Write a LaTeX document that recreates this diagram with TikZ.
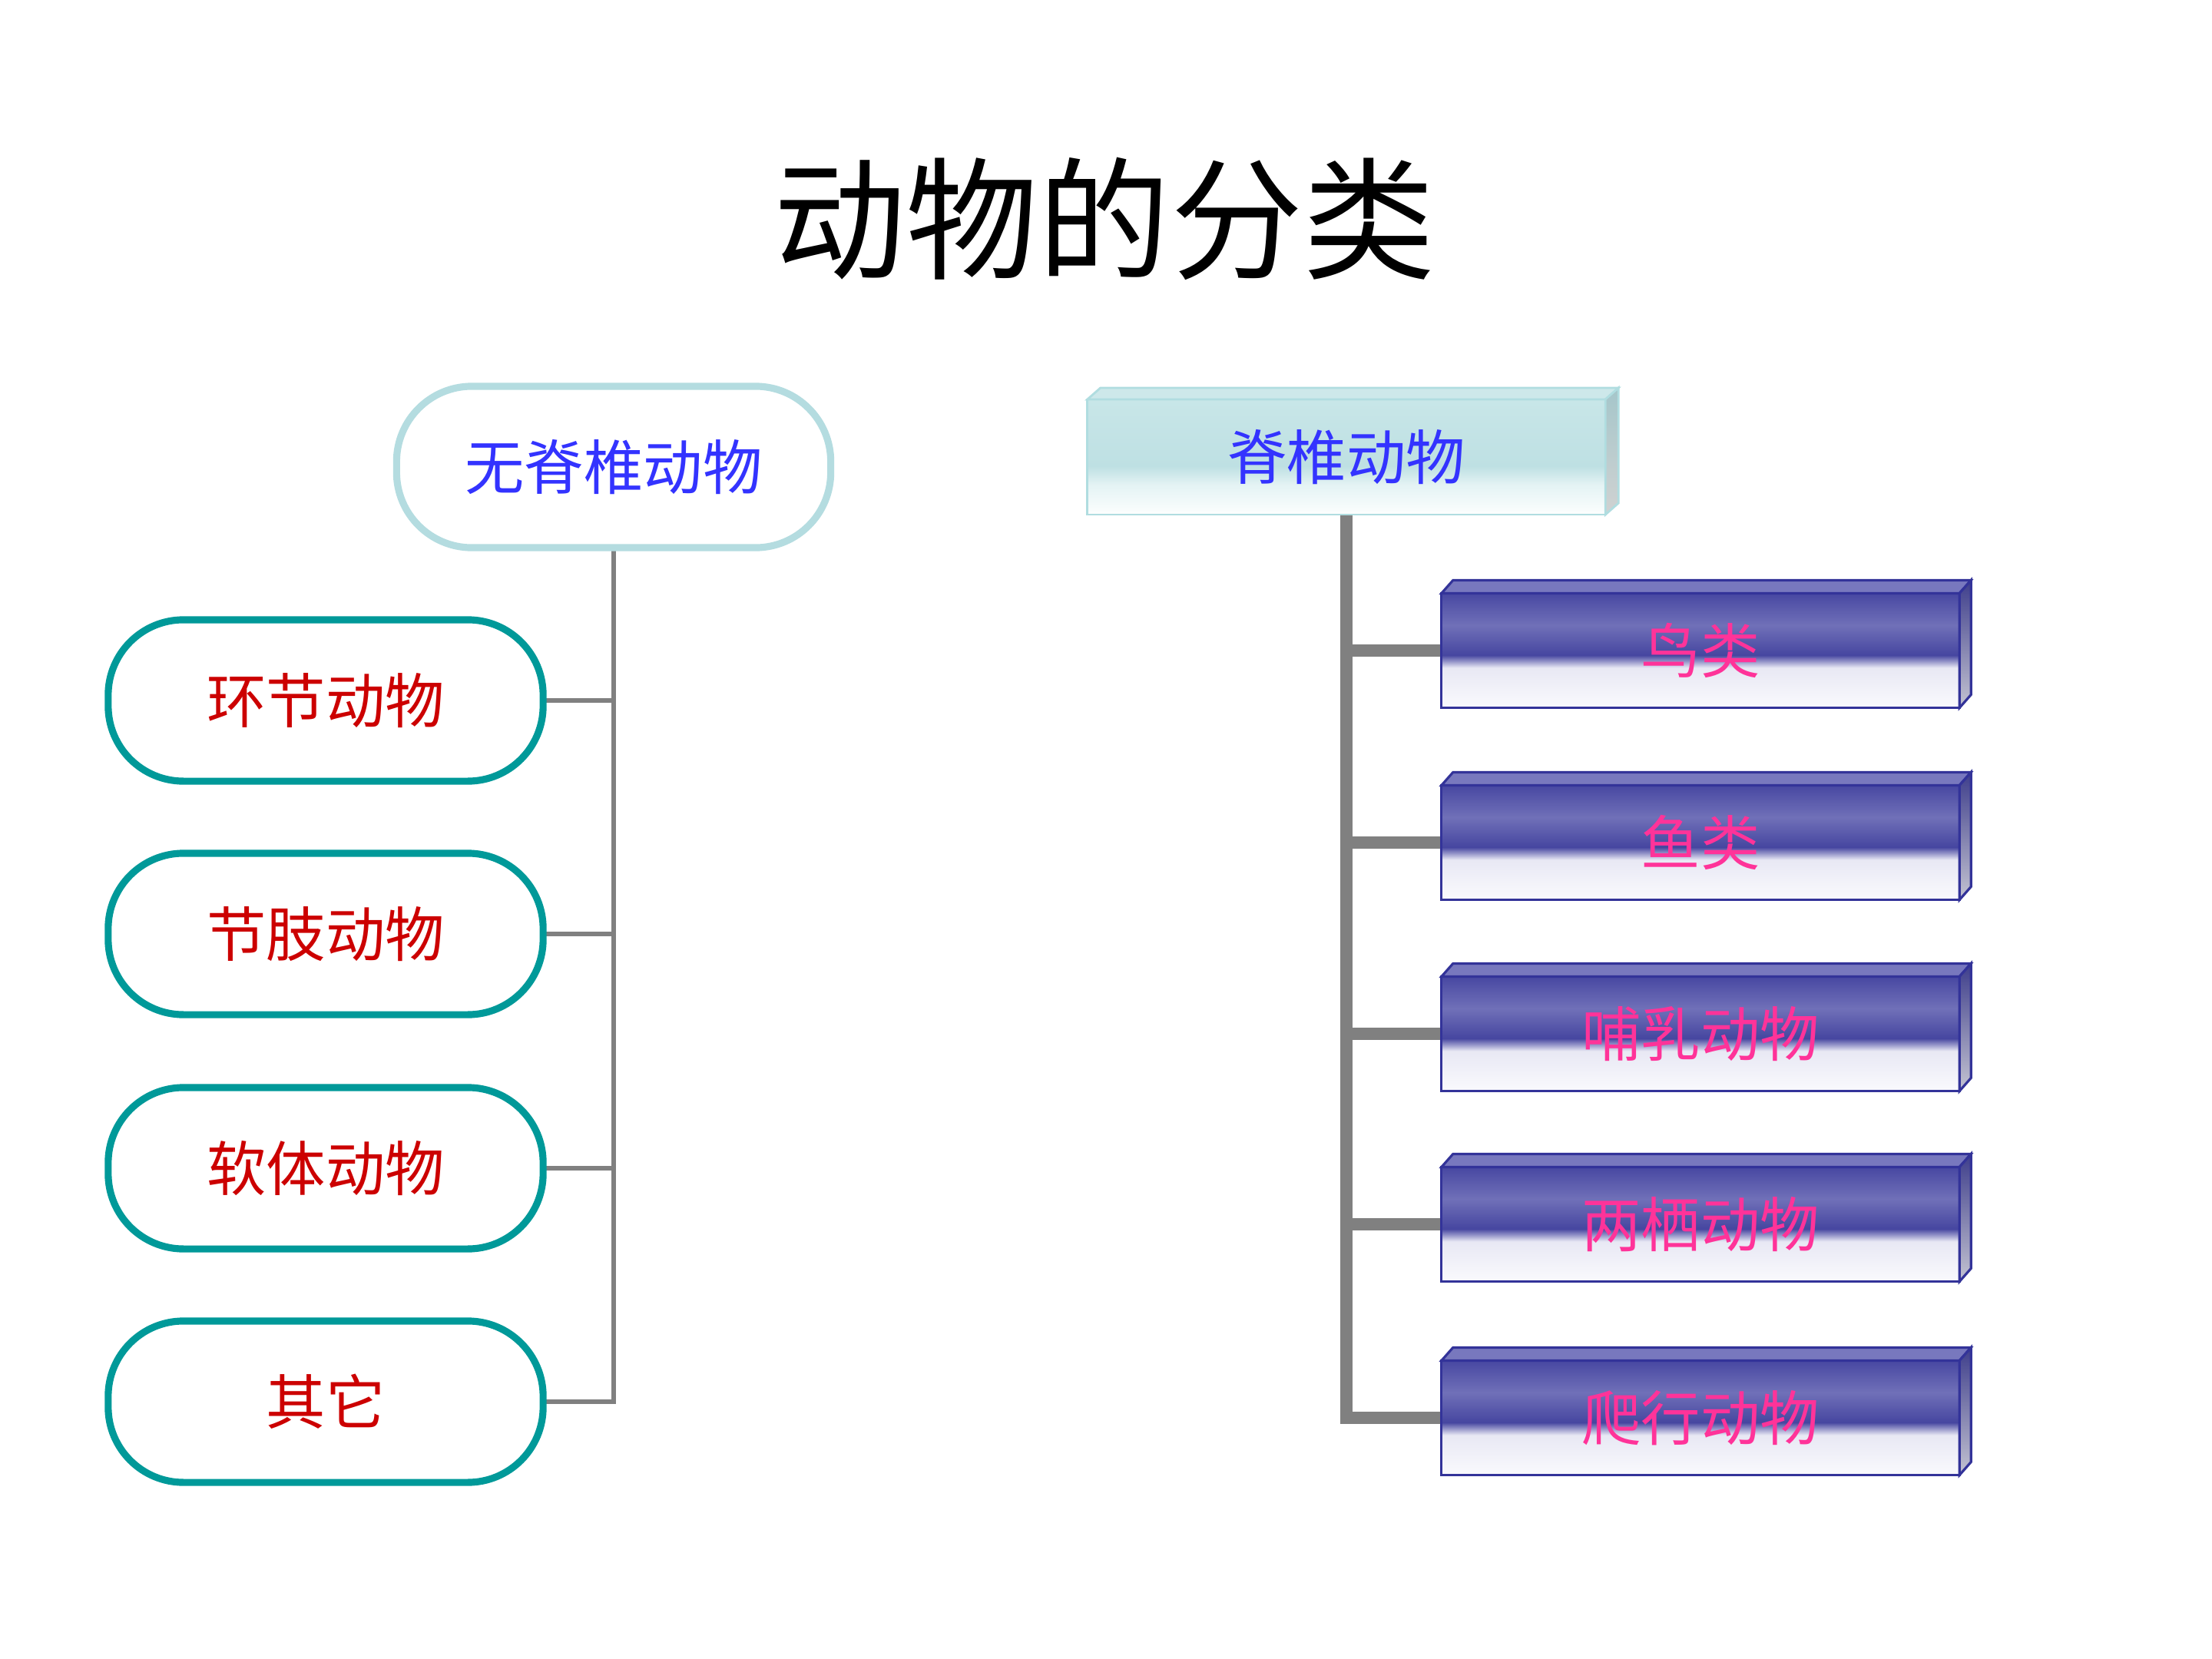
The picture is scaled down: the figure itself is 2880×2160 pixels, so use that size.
\documentclass[tikz,border=0pt]{standalone}
\usepackage{fontspec}
\setmainfont{Noto Sans CJK SC}
\usetikzlibrary{backgrounds}
\definecolor{tealc}{RGB}{0,153,153}
\definecolor{redc}{RGB}{204,0,0}
\definecolor{bluetext}{RGB}{51,51,255}
\definecolor{pinkc}{RGB}{255,51,153}
\definecolor{paleline}{RGB}{180,220,224}
\definecolor{conngray}{RGB}{128,128,128}
\definecolor{bfWhite}{RGB}{250,250,253}
\definecolor{bfPale}{RGB}{232,232,244}
\definecolor{bfDark}{RGB}{70,70,160}
\definecolor{bfMid}{RGB}{112,112,184}
\definecolor{bfDarkTop}{RGB}{72,72,162}
\definecolor{bfBorder}{RGB}{51,51,153}
\definecolor{bfTop}{RGB}{120,120,190}
\definecolor{bfSideTop}{RGB}{62,62,140}
\definecolor{bfSideBot}{RGB}{196,196,210}
\definecolor{hWhite}{RGB}{252,254,254}
\definecolor{hPale}{RGB}{228,243,244}
\definecolor{hCyan}{RGB}{190,224,227}
\definecolor{hCyanTop}{RGB}{200,230,232}
\definecolor{hTop}{RGB}{205,232,234}
\definecolor{hSideTop}{RGB}{165,198,202}
\definecolor{hSideBot}{RGB}{208,210,210}
\definecolor{hBorder}{RGB}{176,221,224}
\pgfdeclareverticalshading{blueface}{100bp}{color(0bp)=(bfWhite); color(25bp)=(bfWhite); color(42.5bp)=(bfPale); color(48bp)=(bfDark); color(61bp)=(bfMid); color(75bp)=(bfDarkTop); color(100bp)=(bfDarkTop)}
\pgfdeclareverticalshading{hdrface}{100bp}{color(0bp)=(hWhite); color(25bp)=(hWhite); color(38bp)=(hPale); color(46bp)=(hCyan); color(75bp)=(hCyanTop); color(100bp)=(hCyanTop)}
\begin{document}
\begin{tikzpicture}[x=0.01cm,y=-0.01cm,
  every node/.style={inner sep=0pt,outer sep=0pt},
  cjk/.style={font=\fontsize{22}{24}\selectfont},
  invtop/.style={cjk,draw=paleline,line width=2.6pt,fill=white,rounded corners=0.98cm,
    minimum width=5.65cm,minimum height=2.10cm,text=bluetext},
  invbox/.style={cjk,draw=tealc,line width=2.6pt,fill=white,rounded corners=0.98cm,
    minimum width=5.66cm,minimum height=2.10cm,text=redc},
  hdrbox/.style={cjk,draw=hBorder,line width=0.8pt,shading=hdrface,
    minimum width=6.74cm,minimum height=1.50cm,text=bluetext},
  hdrtop/.style={draw=hBorder,line width=0.8pt,fill=hTop},
  hdrside/.style={draw=hBorder,line width=0.8pt,top color=hSideTop,bottom color=hSideBot},
  vbox/.style={cjk,draw=bfBorder,line width=0.9pt,shading=blueface,
    minimum width=6.74cm,minimum height=1.49cm,text=pinkc},
  vtop/.style={draw=bfBorder,line width=0.9pt,fill=bfTop},
  vside/.style={draw=bfBorder,line width=0.9pt,top color=bfSideTop,bottom color=bfSideBot},
  thinconn/.style={draw=conngray,line width=1.5pt},
  thickconn/.style={draw=conngray,line width=4.5pt}
]
\useasboundingbox (0,0) rectangle (2880,2160);

% title
\node[font=\fontsize{49}{53}\selectfont] (title) at (1438,285) {动物的分类};

% left tree
\node[invtop] (inv) at (799,608) {无脊椎动物};
\node[invbox] (c1) at (424,912) {环节动物};
\node[invbox] (c2) at (424,1216) {节肢动物};
\node[invbox] (c3) at (424,1521) {软体动物};
\node[invbox] (c4) at (424,1825) {其它};

% right tree
\node[hdrbox] (vert) at (1753,595) {脊椎动物};
\draw[hdrtop] (vert.north west) -- ++(17,-15) -- ([shift={(17,-15)}]vert.north east) -- (vert.north east) -- cycle;
\draw[hdrside] (vert.north east) -- ++(17,-15) -- ([shift={(17,-15)}]vert.south east) -- (vert.south east) -- cycle;

\foreach \n/\y/\t in {b1/847/鸟类, b2/1097/鱼类, b3/1346/哺乳动物, b4/1594/两栖动物, b5/1846/爬行动物}{
  \node[vbox] (\n) at (2214,\y) {\t};
  \draw[vtop] (\n.north west) -- ++(15,-17) -- ([shift={(15,-17)}]\n.north east) -- (\n.north east) -- cycle;
  \draw[vside] (\n.north east) -- ++(15,-17) -- ([shift={(15,-17)}]\n.south east) -- (\n.south east) -- cycle;
}

\begin{scope}[on background layer]
  \fill[white] (0,0) rectangle (2880,2160);
  \draw[thinconn] (inv.south) |- (c4.east);
  \foreach \c in {c1,c2,c3}{
    \draw[thinconn] (inv.south |- \c.east) -- (\c.east);
  }
  \draw[thickconn,line join=miter] (vert.south) |- (b5.west);
  \foreach \b in {b1,b2,b3,b4}{
    \draw[thickconn] (vert.south |- \b.west) -- (\b.west);
  }
\end{scope}
\end{tikzpicture}
\end{document}
